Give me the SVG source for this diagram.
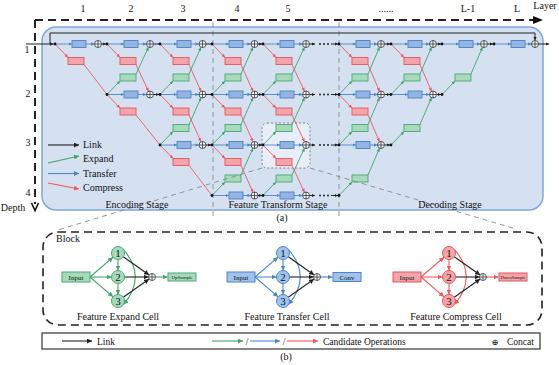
<svg xmlns="http://www.w3.org/2000/svg" xmlns:xlink="http://www.w3.org/1999/xlink" width="559" height="365" viewBox="0 0 559 365">
<defs>
<style>
.t{font-family:'Liberation Serif','Times New Roman',serif;fill:#111}
.bx{fill:#92b5e4;stroke:#4f80c2;stroke-width:.9}
.rx{fill:#f5a4aa;stroke:#e5555c;stroke-width:.9}
.gx{fill:#a7dabb;stroke:#4aa872;stroke-width:.9}
.lb{fill:none;stroke:#4a88cc;stroke-width:.9;marker-end:url(#mb)}
.lr{fill:none;stroke:#f0585c;stroke-width:.9;marker-end:url(#mr)}
.lg{fill:none;stroke:#3fa56c;stroke-width:.9;marker-end:url(#mg)}
.ln{marker-end:none}
.lk{fill:none;stroke:#222;stroke-width:1;marker-end:url(#mk)}
.Lb{fill:none;stroke:#4a88cc;stroke-width:1.1;marker-end:url(#Mb)}
.Lr{fill:none;stroke:#f0585c;stroke-width:1.1;marker-end:url(#Mr)}
.Lg{fill:none;stroke:#3fa56c;stroke-width:1.1;marker-end:url(#Mg)}
.Lk{fill:none;stroke:#222;stroke-width:1.1;marker-end:url(#Mk)}
.dt{fill:#111}
.cc circle{fill:#f4f6fa;stroke:#333;stroke-width:.8}
.cc path{stroke:#333;stroke-width:.8}
.gd{fill:none;stroke:#8a8a8a;stroke-width:.9;stroke-dasharray:5,4}
.bd{fill:none;stroke:#222;stroke-width:2;stroke-dasharray:8,5}
.ce{fill:#a7dabb;stroke:#4aa872;stroke-width:1}
.ct{fill:#a0c3ec;stroke:#4a84cc;stroke-width:1}
.cr{fill:#f5a5aa;stroke:#e5555c;stroke-width:1}
</style>
<marker id="mk" viewBox="0 0 6 6" refX="6" refY="3" markerWidth="3.5" markerHeight="3.5" markerUnits="userSpaceOnUse" orient="auto"><path d="M0,0L6,3L0,6z" fill="#222"/></marker>
<marker id="mb" viewBox="0 0 6 6" refX="6" refY="3" markerWidth="3.5" markerHeight="3.5" markerUnits="userSpaceOnUse" orient="auto"><path d="M0,0L6,3L0,6z" fill="#4a88cc"/></marker>
<marker id="mr" viewBox="0 0 6 6" refX="6" refY="3" markerWidth="3.5" markerHeight="3.5" markerUnits="userSpaceOnUse" orient="auto"><path d="M0,0L6,3L0,6z" fill="#f0585c"/></marker>
<marker id="mg" viewBox="0 0 6 6" refX="6" refY="3" markerWidth="3.5" markerHeight="3.5" markerUnits="userSpaceOnUse" orient="auto"><path d="M0,0L6,3L0,6z" fill="#3fa56c"/></marker>
<marker id="Mk" viewBox="0 0 6 6" refX="6" refY="3" markerWidth="5" markerHeight="5" markerUnits="userSpaceOnUse" orient="auto"><path d="M0,0L6,3L0,6z" fill="#222"/></marker>
<marker id="Mb" viewBox="0 0 6 6" refX="6" refY="3" markerWidth="5" markerHeight="5" markerUnits="userSpaceOnUse" orient="auto"><path d="M0,0L6,3L0,6z" fill="#4a88cc"/></marker>
<marker id="Mr" viewBox="0 0 6 6" refX="6" refY="3" markerWidth="5" markerHeight="5" markerUnits="userSpaceOnUse" orient="auto"><path d="M0,0L6,3L0,6z" fill="#f0585c"/></marker>
<marker id="Mg" viewBox="0 0 6 6" refX="6" refY="3" markerWidth="5" markerHeight="5" markerUnits="userSpaceOnUse" orient="auto"><path d="M0,0L6,3L0,6z" fill="#3fa56c"/></marker>
<symbol id="cat" overflow="visible" class="cc"><circle cx="0" cy="0" r="3.5"/><path d="M-3.5,0H3.5M0,-3.5V3.5"/></symbol>
</defs>
<rect width="559" height="365" fill="#ffffff"/>

<!-- (a) frame -->
<g id="frame-a">
<rect x="42" y="27" width="501" height="183" rx="14" fill="#d5e1f1" stroke="#7fa7dc" stroke-width="1.5"/>
<path class="gd" d="M213,22V220M339,22V220"/>
<rect x="262" y="123" width="48" height="45" rx="5" fill="#eef2f8" fill-opacity=".75" stroke="#777" stroke-width=".9" stroke-dasharray="2,2"/>
<path class="bd" d="M35,20H536"/>
<polygon points="533,16 543,20 533,24" fill="#111"/>
<path class="bd" d="M35,20V204"/>
<polyline points="31.5,203 35,210.5 38.5,203" fill="none" stroke="#111" stroke-width="1.6"/>
</g>

<g id="connectors">
<path d="M26,44H53.5" class="lk"/>
<path d="M50,44V33H535V40.2" class="lk" stroke-width="1.2"/>
<!-- L1 -->
<path class="lb" d="M55,44H72"/><path class="lb" d="M86,44H94.4"/>
<path class="lr" d="M55,44L68,57.5"/><path class="lr ln" d="M84,64.5L107,94.5"/>
<!-- L2 -->
<path class="lb" d="M107,44H124"/><path class="lb" d="M138,44H146.4"/>
<path class="lr" d="M107,44L120,57.5"/><path class="lr" d="M136,64.5L148.5,91.3"/>
<path class="lg" d="M107,94.5L120,81"/><path class="lg" d="M136,74L148.5,47.2"/>
<path class="lb" d="M107,94.5H124"/><path class="lb" d="M138,94.5H146.4"/>
<path class="lr" d="M107,94.5L120,108"/><path class="lr ln" d="M136,115L160,145"/>
<!-- L3 -->
<path class="lb" d="M160,44H177"/><path class="lb" d="M191,44H198.9"/>
<path class="lr" d="M160,44L173,57.5"/><path class="lr" d="M189,64.5L201,91.3"/>
<path class="lg" d="M160,94.5L173,81"/><path class="lg" d="M189,74L201,47.2"/>
<path class="lb" d="M160,94.5H177"/><path class="lb" d="M191,94.5H198.9"/>
<path class="lr" d="M160,94.5L173,108"/><path class="lr" d="M189,115L201,141.8"/>
<path class="lg" d="M160,145L173,131.5"/><path class="lg" d="M189,124.5L201,97.7"/>
<path class="lb" d="M160,145H177"/><path class="lb" d="M191,145H198.9"/>
<path class="lr" d="M160,145L173,158.5"/><path class="lr ln" d="M189,165.5L212,195.5"/>
<!-- L4 -->
<path class="lb" d="M212,44H229"/><path class="lb" d="M243,44H250.9"/>
<path class="lr" d="M212,44L225,57.5"/><path class="lr" d="M241,64.5L253,91.3"/>
<path class="lg" d="M212,94.5L225,81"/><path class="lg" d="M241,74L253,47.2"/>
<path class="lb" d="M212,94.5H229"/><path class="lb" d="M243,94.5H250.9"/>
<path class="lr" d="M212,94.5L225,108"/><path class="lr" d="M241,115L253,141.8"/>
<path class="lg" d="M212,145L225,131.5"/><path class="lg" d="M241,124.5L253,97.7"/>
<path class="lb" d="M212,145H229"/><path class="lb" d="M243,145H250.9"/>
<path class="lr" d="M212,145L225,158.5"/><path class="lr" d="M241,165.5L253,192.3"/>
<path class="lg" d="M212,195.5L225,182"/><path class="lg" d="M241,175L253,148.2"/>
<path class="lb" d="M212,195.5H229"/><path class="lb" d="M243,195.5H250.9"/>
<!-- L5 -->
<path class="lb" d="M263,44H280"/><path class="lb" d="M294,44H302.4"/>
<path class="lr" d="M263,44L276,57.5"/><path class="lr" d="M292,64.5L304.5,91.3"/>
<path class="lg" d="M263,94.5L276,81"/><path class="lg" d="M292,74L304.5,47.2"/>
<path class="lb" d="M263,94.5H280"/><path class="lb" d="M294,94.5H302.4"/>
<path class="lr" d="M263,94.5L276,108"/><path class="lr" d="M292,115L304.5,141.8"/>
<path class="lg" d="M263,145L276,131.5"/><path class="lg" d="M292,124.5L304.5,97.7"/>
<path class="lb" d="M263,145H280"/><path class="lb" d="M294,145H302.4"/>
<path class="lr" d="M263,145L276,158.5"/><path class="lr" d="M292,165.5L304.5,192.3"/>
<path class="lg" d="M263,195.5L276,182"/><path class="lg" d="M292,175L304.5,148.2"/>
<path class="lb" d="M263,195.5H280"/><path class="lb" d="M294,195.5H302.4"/>
<!-- L6 -->
<path class="lb" d="M339,44H356"/><path class="lb" d="M370,44H377.4"/>
<path class="lr" d="M339,44L352,57.5"/><path class="lr" d="M368,64.5L379.5,91.3"/>
<path class="lg" d="M339,94.5L352,81"/><path class="lg" d="M368,74L379.5,47.2"/>
<path class="lb" d="M339,94.5H356"/><path class="lb" d="M370,94.5H377.4"/>
<path class="lr" d="M339,94.5L352,108"/><path class="lr" d="M368,115L379.5,141.8"/>
<path class="lg" d="M339,145L352,131.5"/><path class="lg" d="M368,124.5L379.5,97.7"/>
<path class="lb" d="M339,145H356"/><path class="lb" d="M370,145H377.4"/>
<path class="lg" d="M339,195.5L352,182"/><path class="lg" d="M368,175L379.5,148.2"/>
<!-- L7 -->
<path class="lb" d="M391,44H408"/><path class="lb" d="M422,44H429.4"/>
<path class="lr" d="M391,44L404,57.5"/><path class="lr" d="M420,64.5L431.5,91.3"/>
<path class="lg" d="M391,94.5L404,81"/><path class="lg" d="M420,74L431.5,47.2"/>
<path class="lb" d="M391,94.5H408"/><path class="lb" d="M422,94.5H429.4"/>
<path class="lg" d="M391,145L404,131.5"/><path class="lg" d="M420,124.5L431.5,97.7"/>
<!-- L8, L9 -->
<path class="lb" d="M442,44H459"/><path class="lb" d="M473,44H480.4"/>
<path class="lg" d="M442,94.5L455,81"/><path class="lg" d="M471,74L482.5,47.2"/>
<path class="lb" d="M494,44H511"/><path class="lb" d="M525,44H531.4"/>
<!-- links concat -> node -->
<path class="lk" d="M101.5,44H106"/>
<path class="lk" d="M153.5,44H159M153.5,94.5H159"/>
<path class="lk" d="M206,44H211M206,94.5H211M206,145H211"/>
<path class="lk" d="M258,44H262"/><path class="lk" d="M258,94.5H262"/><path class="lk" d="M258,145H262"/><path class="lk" d="M258,195.5H262"/>
<path class="lk" d="M309.5,44H315"/><path class="lk" d="M309.5,94.5H315"/><path class="lk" d="M309.5,145H315"/><path class="lk" d="M309.5,195.5H315"/>
<path class="lk" d="M331,44H338"/><path class="lk" d="M331,94.5H338"/><path class="lk" d="M331,145H338"/><path class="lk" d="M331,195.5H338"/>
<path class="lk" d="M384.5,44H390"/><path class="lk" d="M384.5,94.5H390"/><path class="lk" d="M384.5,145H390"/>
<path class="lk" d="M436.5,44H441"/><path class="lk" d="M436.5,94.5H441"/>
<path class="lk" d="M487.5,44H493"/>
<path class="lk" d="M538.5,44H549"/>
</g>

<g id="ellipsis" class="dt">
<circle cx="320" cy="44" r=".9"/><circle cx="324" cy="44" r=".9"/><circle cx="328" cy="44" r=".9"/>
<circle cx="320" cy="94.5" r=".9"/><circle cx="324" cy="94.5" r=".9"/><circle cx="328" cy="94.5" r=".9"/>
<circle cx="320" cy="145" r=".9"/><circle cx="324" cy="145" r=".9"/><circle cx="328" cy="145" r=".9"/>
<circle cx="320" cy="195.5" r=".9"/><circle cx="324" cy="195.5" r=".9"/><circle cx="328" cy="195.5" r=".9"/>
</g>

<g id="ops">
<g id="L1-B1"><rect class="bx" x="72" y="40.5" width="14" height="7"/></g>
<g id="L1-R1"><rect class="rx" x="68" y="57.5" width="16" height="7"/></g>
<g id="L2-B1"><rect class="bx" x="124" y="40.5" width="14" height="7"/></g>
<g id="L2-R1"><rect class="rx" x="120" y="57.5" width="16" height="7"/></g>
<g id="L2-G2"><rect class="gx" x="120" y="74" width="16" height="7"/></g>
<g id="L2-B2"><rect class="bx" x="124" y="91" width="14" height="7"/></g>
<g id="L2-R2"><rect class="rx" x="120" y="108" width="16" height="7"/></g>
<g id="L3-B1"><rect class="bx" x="177" y="40.5" width="14" height="7"/></g>
<g id="L3-R1"><rect class="rx" x="173" y="57.5" width="16" height="7"/></g>
<g id="L3-G2"><rect class="gx" x="173" y="74" width="16" height="7"/></g>
<g id="L3-B2"><rect class="bx" x="177" y="91" width="14" height="7"/></g>
<g id="L3-R2"><rect class="rx" x="173" y="108" width="16" height="7"/></g>
<g id="L3-G3"><rect class="gx" x="173" y="124.5" width="16" height="7"/></g>
<g id="L3-B3"><rect class="bx" x="177" y="141.5" width="14" height="7"/></g>
<g id="L3-R3"><rect class="rx" x="173" y="158.5" width="16" height="7"/></g>
<g id="L4-B1"><rect class="bx" x="229" y="40.5" width="14" height="7"/></g>
<g id="L4-R1"><rect class="rx" x="225" y="57.5" width="16" height="7"/></g>
<g id="L4-G2"><rect class="gx" x="225" y="74" width="16" height="7"/></g>
<g id="L4-B2"><rect class="bx" x="229" y="91" width="14" height="7"/></g>
<g id="L4-R2"><rect class="rx" x="225" y="108" width="16" height="7"/></g>
<g id="L4-G3"><rect class="gx" x="225" y="124.5" width="16" height="7"/></g>
<g id="L4-B3"><rect class="bx" x="229" y="141.5" width="14" height="7"/></g>
<g id="L4-R3"><rect class="rx" x="225" y="158.5" width="16" height="7"/></g>
<g id="L4-G4"><rect class="gx" x="225" y="175" width="16" height="7"/></g>
<g id="L4-B4"><rect class="bx" x="229" y="192" width="14" height="7"/></g>
<g id="L5-B1"><rect class="bx" x="280" y="40.5" width="14" height="7"/></g>
<g id="L5-R1"><rect class="rx" x="276" y="57.5" width="16" height="7"/></g>
<g id="L5-G2"><rect class="gx" x="276" y="74" width="16" height="7"/></g>
<g id="L5-B2"><rect class="bx" x="280" y="91" width="14" height="7"/></g>
<g id="L5-R2"><rect class="rx" x="276" y="108" width="16" height="7"/></g>
<g id="L5-G3"><rect class="gx" x="276" y="124.5" width="16" height="7"/></g>
<g id="L5-B3"><rect class="bx" x="280" y="141.5" width="14" height="7"/></g>
<g id="L5-R3"><rect class="rx" x="276" y="158.5" width="16" height="7"/></g>
<g id="L5-G4"><rect class="gx" x="276" y="175" width="16" height="7"/></g>
<g id="L5-B4"><rect class="bx" x="280" y="192" width="14" height="7"/></g>
<g id="L6-B1"><rect class="bx" x="356" y="40.5" width="14" height="7"/></g>
<g id="L6-R1"><rect class="rx" x="352" y="57.5" width="16" height="7"/></g>
<g id="L6-G2"><rect class="gx" x="352" y="74" width="16" height="7"/></g>
<g id="L6-B2"><rect class="bx" x="356" y="91" width="14" height="7"/></g>
<g id="L6-R2"><rect class="rx" x="352" y="108" width="16" height="7"/></g>
<g id="L6-G3"><rect class="gx" x="352" y="124.5" width="16" height="7"/></g>
<g id="L6-B3"><rect class="bx" x="356" y="141.5" width="14" height="7"/></g>
<g id="L6-G4"><rect class="gx" x="352" y="175" width="16" height="7"/></g>
<g id="L7-B1"><rect class="bx" x="408" y="40.5" width="14" height="7"/></g>
<g id="L7-R1"><rect class="rx" x="404" y="57.5" width="16" height="7"/></g>
<g id="L7-G2"><rect class="gx" x="404" y="74" width="16" height="7"/></g>
<g id="L7-B2"><rect class="bx" x="408" y="91" width="14" height="7"/></g>
<g id="L7-G3"><rect class="gx" x="404" y="124.5" width="16" height="7"/></g>
<g id="L8-B1"><rect class="bx" x="459" y="40.5" width="14" height="7"/></g>
<g id="L8-G2"><rect class="gx" x="455" y="74" width="16" height="7"/></g>
<g id="L9-B1"><rect class="bx" x="511" y="40.5" width="14" height="7"/></g>
</g>

<g id="concats">
<use href="#cat" x="98" y="44"/>
<use href="#cat" x="150" y="44"/><use href="#cat" x="150" y="94.5"/>
<use href="#cat" x="202.5" y="44"/><use href="#cat" x="202.5" y="94.5"/><use href="#cat" x="202.5" y="145"/>
<use href="#cat" x="254.5" y="44"/><use href="#cat" x="254.5" y="94.5"/><use href="#cat" x="254.5" y="145"/><use href="#cat" x="254.5" y="195.5"/>
<use href="#cat" x="306" y="44"/><use href="#cat" x="306" y="94.5"/><use href="#cat" x="306" y="145"/><use href="#cat" x="306" y="195.5"/>
<use href="#cat" x="381" y="44"/><use href="#cat" x="381" y="94.5"/><use href="#cat" x="381" y="145"/>
<use href="#cat" x="433" y="44"/><use href="#cat" x="433" y="94.5"/>
<use href="#cat" x="484" y="44"/>
<use href="#cat" x="535" y="44"/>
</g>

<g id="nodes" class="dt">
<circle cx="55" cy="44" r="1.4"/>
<circle cx="107" cy="44" r="1.4"/><circle cx="107" cy="94.5" r="1.4"/>
<circle cx="160" cy="44" r="1.4"/><circle cx="160" cy="94.5" r="1.4"/><circle cx="160" cy="145" r="1.4"/>
<circle cx="212" cy="44" r="1.4"/><circle cx="212" cy="94.5" r="1.4"/><circle cx="212" cy="145" r="1.4"/><circle cx="212" cy="195.5" r="1.4"/>
<circle cx="263" cy="44" r="1.4"/><circle cx="263" cy="94.5" r="1.4"/><circle cx="263" cy="145" r="1.4"/><circle cx="263" cy="195.5" r="1.4"/>
<circle cx="339" cy="44" r="1.4"/><circle cx="339" cy="94.5" r="1.4"/><circle cx="339" cy="145" r="1.4"/><circle cx="339" cy="195.5" r="1.4"/>
<circle cx="391" cy="44" r="1.4"/><circle cx="391" cy="94.5" r="1.4"/><circle cx="391" cy="145" r="1.4"/>
<circle cx="442" cy="44" r="1.4"/><circle cx="442" cy="94.5" r="1.4"/>
<circle cx="494" cy="44" r="1.4"/>
</g>

<g id="zoom-lines">
<path class="gd" d="M262,168L58,230M310,168L516,229"/>
</g>

<g id="labels-a" class="t" font-size="10">
<text x="83" y="12" text-anchor="middle">1</text>
<text x="131" y="12" text-anchor="middle">2</text>
<text x="183" y="12" text-anchor="middle">3</text>
<text x="237" y="12" text-anchor="middle">4</text>
<text x="288" y="12" text-anchor="middle">5</text>
<text x="386" y="12" text-anchor="middle">......</text>
<text x="468" y="12" text-anchor="middle">L-1</text>
<text x="517" y="12" text-anchor="middle">L</text>
<text x="545" y="9" text-anchor="middle">Layer</text>
<text x="27" y="52.5" text-anchor="middle">1</text>
<text x="28" y="96.5" text-anchor="middle">2</text>
<text x="28" y="145.5" text-anchor="middle">3</text>
<text x="28" y="195.5" text-anchor="middle">4</text>
<text x="13" y="211" text-anchor="middle">Depth</text>
<text x="137" y="208" text-anchor="middle">Encoding Stage</text>
<text x="278" y="208" text-anchor="middle">Feature Transform Stage</text>
<text x="450" y="208" text-anchor="middle">Decoding Stage</text>
<text x="282" y="221" text-anchor="middle">(a)</text>
</g>

<g id="legend-a">
<path class="Lk" d="M48,145H79"/>
<path class="Lg" d="M48,163L79,156"/>
<path class="Lb" d="M48,173.5H79"/>
<path class="Lr" d="M48,183L79,189"/>
<g class="t" font-size="10">
<text x="83" y="148">Link</text>
<text x="83" y="162">Expand</text>
<text x="83" y="176.5">Transfer</text>
<text x="83" y="191">Compress</text>
</g>
</g>

<!-- (b) -->
<g id="block">
<rect x="43" y="232" width="499" height="93" rx="15" fill="none" stroke="#222" stroke-width="1.6" stroke-dasharray="8,5"/>
<text class="t" x="56" y="242" font-size="10">Block</text>
</g>

<g id="cell-expand">
<path class="Lg" d="M90,277L113.1,257.2"/><path class="Lg" d="M90,277H111.5"/><path class="Lg" d="M90,277L113.1,296.8"/>
<path class="Lg" d="M118,259.5V270.5"/><path class="Lg" d="M118,283.5V294.5"/>
<path class="Lg" d="M123.5,249.5Q147,277 123.5,304.5"/>
<path class="Lk" d="M123.3,256.8L149.1,275"/><path class="Lk" d="M124.5,277H148.5"/><path class="Lk" d="M123.3,297.2L149.1,279"/>
<path class="Lg" d="M155.5,277H167.5"/>
<g id="e-input"><rect class="ce" x="62" y="272" width="28" height="10"/><text class="t" x="76" y="279.5" font-size="7" text-anchor="middle">Input</text></g>
<g id="e-n1"><circle class="ce" cx="118" cy="253" r="6.5"/><text class="t" x="118" y="256.8" font-size="11" text-anchor="middle">1</text></g>
<g id="e-n2"><circle class="ce" cx="118" cy="277" r="6.5"/><text class="t" x="118" y="280.8" font-size="11" text-anchor="middle">2</text></g>
<g id="e-n3"><circle class="ce" cx="118" cy="301" r="6.5"/><text class="t" x="118" y="304.8" font-size="11" text-anchor="middle">3</text></g>
<g id="e-cat"><use href="#cat" x="152" y="277"/></g>
<g id="e-out"><rect class="ce" x="168" y="273" width="28" height="8"/><text class="t" x="182" y="278.8" font-size="5" text-anchor="middle">UpSample</text></g>
<text class="t" x="118" y="320" font-size="10" text-anchor="middle">Feature Expand Cell</text>
</g>

<g id="cell-transfer">
<path class="Lb" d="M255,277L278.1,257.2"/><path class="Lb" d="M255,277H276.5"/><path class="Lb" d="M255,277L278.1,296.8"/>
<path class="Lb" d="M283,259.5V270.5"/><path class="Lb" d="M283,283.5V294.5"/>
<path class="Lb" d="M288.5,249.5Q312,277 288.5,304.5"/>
<path class="Lk" d="M288.3,256.8L314.1,275"/><path class="Lk" d="M289.5,277H313.5"/><path class="Lk" d="M288.3,297.2L314.1,279"/>
<path class="Lb" d="M320.5,277H332.5"/>
<g id="t-input"><rect class="ct" x="227" y="272" width="28" height="10"/><text class="t" x="241" y="279.5" font-size="7" text-anchor="middle">Input</text></g>
<g id="t-n1"><circle class="ct" cx="283" cy="253" r="6.5"/><text class="t" x="283" y="256.8" font-size="11" text-anchor="middle">1</text></g>
<g id="t-n2"><circle class="ct" cx="283" cy="277" r="6.5"/><text class="t" x="283" y="280.8" font-size="11" text-anchor="middle">2</text></g>
<g id="t-n3"><circle class="ct" cx="283" cy="301" r="6.5"/><text class="t" x="283" y="304.8" font-size="11" text-anchor="middle">3</text></g>
<g id="t-cat"><use href="#cat" x="317" y="277"/></g>
<g id="t-out"><rect class="ct" x="333" y="272.5" width="28" height="9"/><text class="t" x="347" y="279.5" font-size="7" text-anchor="middle">Conv</text></g>
<text class="t" x="287" y="320" font-size="10" text-anchor="middle">Feature Transfer Cell</text>
</g>

<g id="cell-compress">
<path class="Lr" d="M421,277L444.1,257.2"/><path class="Lr" d="M421,277H442.5"/><path class="Lr" d="M421,277L444.1,296.8"/>
<path class="Lr" d="M449,259.5V270.5"/><path class="Lr" d="M449,283.5V294.5"/>
<path class="Lr" d="M454.5,249.5Q478,277 454.5,304.5"/>
<path class="Lk" d="M454.3,256.8L480.1,275"/><path class="Lk" d="M455.5,277H479.5"/><path class="Lk" d="M454.3,297.2L480.1,279"/>
<path class="Lr" d="M486.5,277H498.5"/>
<g id="c-input"><rect class="cr" x="393" y="272" width="28" height="10"/><text class="t" x="407" y="279.5" font-size="7" text-anchor="middle">Input</text></g>
<g id="c-n1"><circle class="cr" cx="449" cy="253" r="6.5"/><text class="t" x="449" y="256.8" font-size="11" text-anchor="middle">1</text></g>
<g id="c-n2"><circle class="cr" cx="449" cy="277" r="6.5"/><text class="t" x="449" y="280.8" font-size="11" text-anchor="middle">2</text></g>
<g id="c-n3"><circle class="cr" cx="449" cy="301" r="6.5"/><text class="t" x="449" y="304.8" font-size="11" text-anchor="middle">3</text></g>
<g id="c-cat"><use href="#cat" x="483" y="277"/></g>
<g id="c-out"><rect class="cr" x="499" y="273" width="28" height="8"/><text class="t" x="513" y="278.8" font-size="4.6" text-anchor="middle">DownSample</text></g>
<text class="t" x="456" y="320" font-size="10" text-anchor="middle">Feature Compress Cell</text>
</g>

<g id="legend-b">
<rect x="42" y="333" width="498" height="16" fill="#fff" stroke="#222" stroke-width="1.1"/>
<path class="Lk" d="M62,341H92"/>
<path class="Lg" d="M212,341H243"/>
<path class="Lb" d="M250,341H280"/>
<path class="Lr" d="M287,341H318"/>
<g class="t" font-size="9.5">
<text x="97" y="344.5">Link</text>
<text x="247" y="344.5" text-anchor="middle">/</text>
<text x="284" y="344.5" text-anchor="middle">/</text>
<text x="323" y="344.5">Candidate Operations</text>
<text x="495" y="344.5" text-anchor="middle" font-family="'DejaVu Serif','Liberation Serif',serif" font-size="8.5">⊕</text>
<text x="507" y="344.5">Concat</text>
</g>
<text class="t" x="286" y="360" font-size="10" text-anchor="middle">(b)</text>
</g>
</svg>
